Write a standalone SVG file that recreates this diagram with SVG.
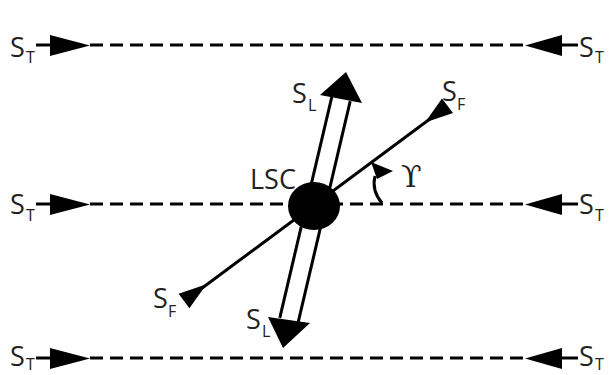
<svg xmlns="http://www.w3.org/2000/svg" width="611" height="375" viewBox="0 0 611 375">
<style>
.lbl{font-family:"Open Sans","Liberation Sans",sans-serif;font-size:27px;fill:#222}
.sub{font-family:"Open Sans","Liberation Sans",sans-serif;font-size:16px;fill:#222}
.dash{stroke:#000;stroke-width:3;stroke-dasharray:13 7;fill:none}
.solid{stroke:#000;stroke-width:3;fill:none}
.head{fill:#000}
</style>
<rect width="611" height="375" fill="#fff"/>
<g id="connectors">
  <line class="dash" x1="90" y1="45" x2="525" y2="45"/>
  <line class="dash" x1="90" y1="204" x2="525" y2="204"/>
  <line class="dash" x1="90" y1="358" x2="525" y2="358"/>
  <line class="solid" x1="36" y1="45" x2="55" y2="45"/>
  <line class="solid" x1="36" y1="204" x2="55" y2="204"/>
  <line class="solid" x1="36" y1="358" x2="55" y2="358"/>
  <line class="solid" x1="558" y1="45" x2="578" y2="45"/>
  <line class="solid" x1="558" y1="204" x2="578" y2="204"/>
  <line class="solid" x1="558" y1="358" x2="578" y2="358"/>
  <polygon class="head" points="50,35 50,56 90,45.5"/>
  <polygon class="head" points="50,194 50,215 90,204.5"/>
  <polygon class="head" points="50,348 50,369 90,358.5"/>
  <polygon class="head" points="562,35 562,56 525,45.5"/>
  <polygon class="head" points="562,194 562,215 525,204.5"/>
  <polygon class="head" points="562,348 562,369 525,358.5"/>
  <line class="solid" x1="186" y1="300" x2="446" y2="107"/>
  <polygon class="head" points="442,98.6 453,113 425,122.5"/>
  <polygon class="head" points="178.6,293.8 189.4,308.2 206.5,284.3"/>
  <line class="solid" x1="331.8" y1="96.8" x2="279.8" y2="317.8"/>
  <line class="solid" x1="350.2" y1="101.2" x2="298.2" y2="322.2"/>
  <polygon class="head" points="320,95 362,103 346,72"/>
  <polygon class="head" points="268,317 310,323 283,348"/>
  <path class="solid" d="M382,203 C376,196 372,188 375,176"/>
  <polygon class="head" points="371,162 393,171 377,179"/>
</g>
<g id="LSC">
  <ellipse cx="314" cy="206" rx="26" ry="24" fill="#000"/>
  <text class="lbl" x="250" y="189" font-size="25">LSC</text>
</g>
<g id="labels">
  <text class="lbl" x="10" y="57">S</text><text class="sub" x="26" y="63">T</text>
  <text class="lbl" x="10" y="214">S</text><text class="sub" x="26" y="221">T</text>
  <text class="lbl" x="10" y="366">S</text><text class="sub" x="26" y="370">T</text>
  <text class="lbl" x="579" y="57">S</text><text class="sub" x="595" y="63">T</text>
  <text class="lbl" x="579" y="214">S</text><text class="sub" x="595" y="221">T</text>
  <text class="lbl" x="579" y="366">S</text><text class="sub" x="595" y="370">T</text>
  <text class="lbl" x="292" y="103">S</text><text class="sub" x="308" y="111">L</text>
  <text class="lbl" x="246" y="329">S</text><text class="sub" x="262" y="337">L</text>
  <text class="lbl" x="442" y="101">S</text><text class="sub" x="457" y="110">F</text>
  <text class="lbl" x="153" y="308">S</text><text class="sub" x="168" y="317">F</text>
  <text x="401" y="187" font-family="DejaVu Serif, Liberation Serif, serif" font-size="30" fill="#222">ϒ</text>
</g>
</svg>
